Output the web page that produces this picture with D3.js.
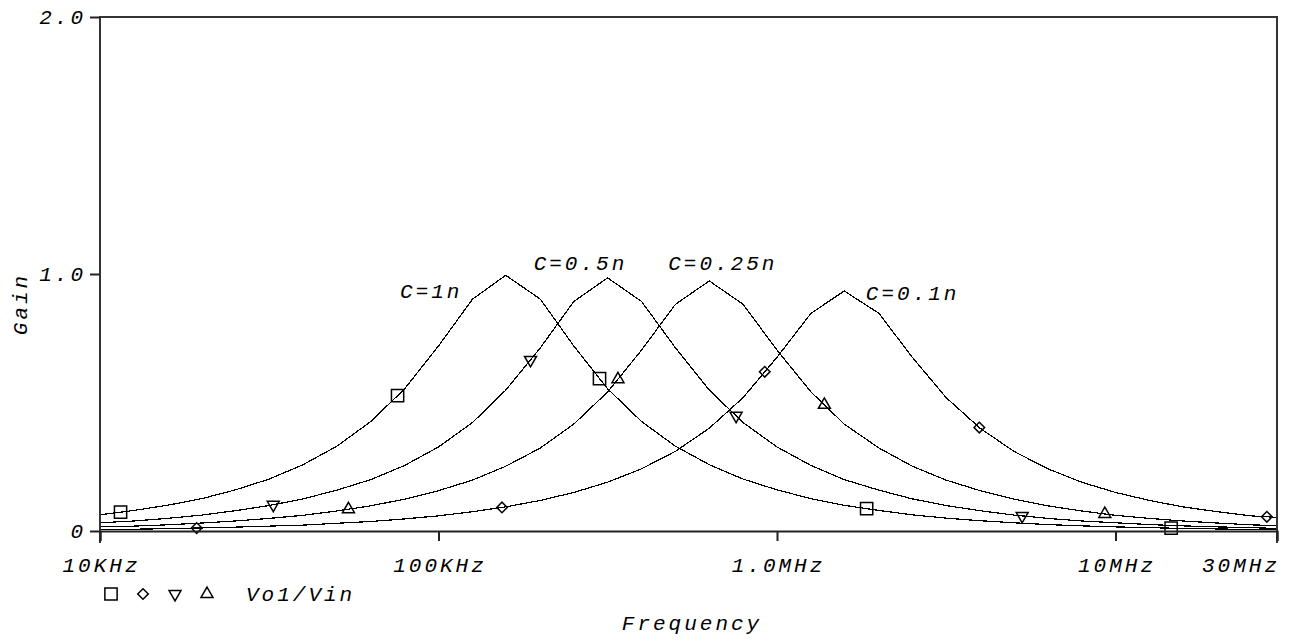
<!DOCTYPE html>
<html>
<head>
<meta charset="utf-8">
<script src="https://cdn.jsdelivr.net/npm/d3@7"></script>
<style>
  body { margin: 0; background: #fff; }
  svg text { font-family: "Liberation Mono", "DejaVu Sans Mono", monospace; font-style: italic; fill: #000; }
</style>
</head>
<body>
<div id="chart"></div>
<script>
// sweep points, 10 per decade from 10KHz up to 30MHz
const freqs = [10e3, 12.6e3, 15.8e3, 20e3, 25.1e3, 31.6e3, 39.8e3, 50.1e3, 63.1e3, 79.4e3,
               100e3, 126e3, 158e3, 200e3, 251e3, 316e3, 398e3, 501e3, 631e3, 794e3,
               1e6, 1.26e6, 1.58e6, 2e6, 2.51e6, 3.16e6, 3.98e6, 5.01e6, 6.31e6, 7.94e6,
               10e6, 12.6e6, 15.8e6, 20e6, 25.1e6, 30e6];

const gainC1n = [0.063, 0.080, 0.100, 0.126, 0.160, 0.202, 0.258, 0.330, 0.426, 0.553,
                 0.720, 0.902, 0.995, 0.902, 0.720, 0.553, 0.426, 0.330, 0.258, 0.202,
                 0.160, 0.126, 0.100, 0.080, 0.063, 0.050, 0.040, 0.032, 0.025, 0.020,
                 0.016, 0.013, 0.010, 0.008, 0.006, 0.005];
const gainC05n = [0.032, 0.039, 0.049, 0.062, 0.079, 0.099, 0.125, 0.159, 0.200, 0.255,
                  0.327, 0.422, 0.548, 0.713, 0.893, 0.985, 0.893, 0.713, 0.548, 0.422,
                  0.327, 0.255, 0.200, 0.159, 0.125, 0.099, 0.079, 0.062, 0.049, 0.039,
                  0.032, 0.025, 0.020, 0.016, 0.013, 0.010];
const gainC025n = [0.016, 0.019, 0.024, 0.031, 0.039, 0.049, 0.061, 0.078, 0.098, 0.124,
                   0.157, 0.198, 0.252, 0.323, 0.416, 0.541, 0.704, 0.882, 0.973, 0.882,
                   0.704, 0.541, 0.416, 0.323, 0.252, 0.198, 0.157, 0.124, 0.098, 0.078,
                   0.061, 0.049, 0.039, 0.031, 0.024, 0.021];
const gainC01n = [0.006, 0.007, 0.009, 0.012, 0.015, 0.019, 0.023, 0.030, 0.037, 0.047,
                  0.059, 0.075, 0.094, 0.119, 0.150, 0.190, 0.242, 0.310, 0.400, 0.519,
                  0.676, 0.847, 0.934, 0.847, 0.676, 0.519, 0.400, 0.310, 0.242, 0.190,
                  0.150, 0.119, 0.094, 0.075, 0.059, 0.053];

// marker frequencies per trace (where the probe put its symbols)
const markC1n = [11.5e3, 75.7e3, 299e3, 1.84e6, 14.6e6];
const markC01n = [19.3e3, 154e3, 920e3, 3.96e6, 28.0e6];
const markC05n = [32.5e3, 187e3, 757e3, 5.3e6];
const markC025n = [54.2e3, 339e3, 1.38e6, 9.3e6];

const xTicks = [10e3, 100e3, 1e6, 10e6, 30e6];
const xTickLabels = ["10KHz", "100KHz", "1.0MHz", "10MHz", "30MHz"];
const yTicks = [0, 1, 2];
const yTickLabels = ["0", "1.0", "2.0"];

// curve labels, placed in data space (freq, gain)
const labelText = ["C=1n", "C=0.5n", "C=0.25n", "C=0.1n"];
const labelFreq = [77e3, 191e3, 477e3, 1.83e6];
const labelGain = [0.905, 1.015, 1.015, 0.898];

const traces = [
  {name: "C=1n", gain: gainC1n, marks: markC1n, sym: "square"},
  {name: "C=0.1n", gain: gainC01n, marks: markC01n, sym: "diamond"},
  {name: "C=0.5n", gain: gainC05n, marks: markC05n, sym: "down"},
  {name: "C=0.25n", gain: gainC025n, marks: markC025n, sym: "up"}
];

const W = 1295, H = 641;
const margin = {top: 17, right: 18, bottom: 110, left: 100};

const svg = d3.select("#chart").append("svg")
    .attr("width", W)
    .attr("height", H);

const x = d3.scaleLog().domain([10e3, 30e6]).range([margin.left, W - margin.right]);
const y = d3.scaleLinear().domain([0, 2]).range([H - margin.bottom, margin.top]);

const fontSize = 21, spacing = 3;

function symbolPath(kind) {
  if (kind === "square") return d3.symbol(d3.symbolSquare, 150)();
  if (kind === "diamond") return d3.symbol(d3.symbolSquare, 56)();
  return d3.symbol(d3.symbolTriangle, 62)();
}
function symbolRotate(kind) {
  if (kind === "diamond") return 45;
  if (kind === "down") return 180;
  return 0;
}
// gain on the drawn polyline at frequency f (so symbols sit on the trace)
function gainAt(gain, f) {
  const lf = Math.log10(f);
  for (let i = 1; i < freqs.length; i++) {
    const a = Math.log10(freqs[i - 1]), b = Math.log10(freqs[i]);
    if (lf <= b) {
      const t = (lf - a) / (b - a);
      return gain[i - 1] + t * (gain[i] - gain[i - 1]);
    }
  }
  return gain[gain.length - 1];
}

// traces
const line = d3.line()
    .x((d, i) => x(freqs[i]))
    .y(d => y(d));

traces.forEach(t => {
  svg.append("path")
      .datum(t.gain)
      .attr("fill", "none")
      .attr("stroke", "#000")
      .attr("stroke-width", 1.2)
      .attr("shape-rendering", "crispEdges")
      .attr("d", line);
});

traces.forEach(t => {
  svg.selectAll(null)
      .data(t.marks)
      .enter().append("path")
      .attr("d", symbolPath(t.sym))
      .attr("fill", "none")
      .attr("stroke", "#000")
      .attr("stroke-width", 1.5)
      .attr("transform", f => "translate(" + x(f) + "," + y(gainAt(t.gain, f)) + ") rotate(" + symbolRotate(t.sym) + ")");
});

// frame
const x0 = x.range()[0], x1 = x.range()[1], y0 = y.range()[0], y1 = y.range()[1];
svg.append("path")
    .attr("d", "M" + x0 + "," + (y0 + 12) + "V" + y1 + "H" + x1 + "V" + (y0 + 12))
    .attr("fill", "none")
    .attr("stroke", "#333")
    .attr("stroke-width", 2);

// x axis
const xAxis = svg.append("g")
    .attr("transform", "translate(0," + y0 + ")")
    .call(d3.axisBottom(x).tickValues(xTicks).tickSize(10).tickFormat(""));
xAxis.select(".domain").attr("stroke", "#222").attr("stroke-width", 2);
xAxis.selectAll(".tick line").attr("stroke", "#222").attr("stroke-width", 2);

svg.selectAll(".xlab")
    .data(xTicks)
    .enter().append("text")
    .attr("class", "xlab")
    .attr("x", (d, i) => i === xTicks.length - 1 ? x(d) + spacing : x(d) + spacing / 2)
    .attr("y", y0 + 41)
    .attr("text-anchor", (d, i) => i === xTicks.length - 1 ? "end" : "middle")
    .style("font-size", fontSize + "px")
    .style("letter-spacing", spacing + "px")
    .text((d, i) => xTickLabels[i]);

// y axis
const yAxis = svg.append("g")
    .attr("transform", "translate(" + x0 + ",0)")
    .call(d3.axisLeft(y).tickValues(yTicks).tickSize(10).tickFormat(""));
yAxis.select(".domain").remove();
yAxis.selectAll(".tick line").attr("stroke", "#222").attr("stroke-width", 2);

svg.selectAll(".ylab")
    .data(yTicks)
    .enter().append("text")
    .attr("class", "ylab")
    .attr("x", x0 - 17 + spacing)
    .attr("y", d => y(d) + 7)
    .attr("text-anchor", "end")
    .style("font-size", fontSize + "px")
    .style("letter-spacing", spacing + "px")
    .text((d, i) => yTickLabels[i]);

svg.append("text")
    .attr("transform", "translate(27,304) rotate(-90)")
    .attr("text-anchor", "middle")
    .style("font-size", fontSize + "px")
    .style("letter-spacing", spacing + "px")
    .text("Gain");

svg.append("text")
    .attr("x", 692)
    .attr("y", 630)
    .attr("text-anchor", "middle")
    .style("font-size", fontSize + "px")
    .style("letter-spacing", spacing + "px")
    .text("Frequency");

// curve labels
svg.selectAll(".clab")
    .data(labelText)
    .enter().append("text")
    .attr("class", "clab")
    .attr("x", (d, i) => x(labelFreq[i]))
    .attr("y", (d, i) => y(labelGain[i]))
    .style("font-size", fontSize + "px")
    .style("letter-spacing", spacing + "px")
    .text(d => d);

// legend
const legend = svg.append("g").attr("transform", "translate(0,594)");
legend.selectAll("path")
    .data(traces)
    .enter().append("path")
    .attr("d", t => symbolPath(t.sym))
    .attr("fill", "none")
    .attr("stroke", "#000")
    .attr("stroke-width", 1.5)
    .attr("transform", (t, i) => "translate(" + (111 + i * 32) + ",0) rotate(" + symbolRotate(t.sym) + ")");
legend.append("text")
    .attr("x", 246)
    .attr("y", 7)
    .style("font-size", fontSize + "px")
    .style("letter-spacing", spacing + "px")
    .text("Vo1/Vin");
</script>
</body>
</html>
